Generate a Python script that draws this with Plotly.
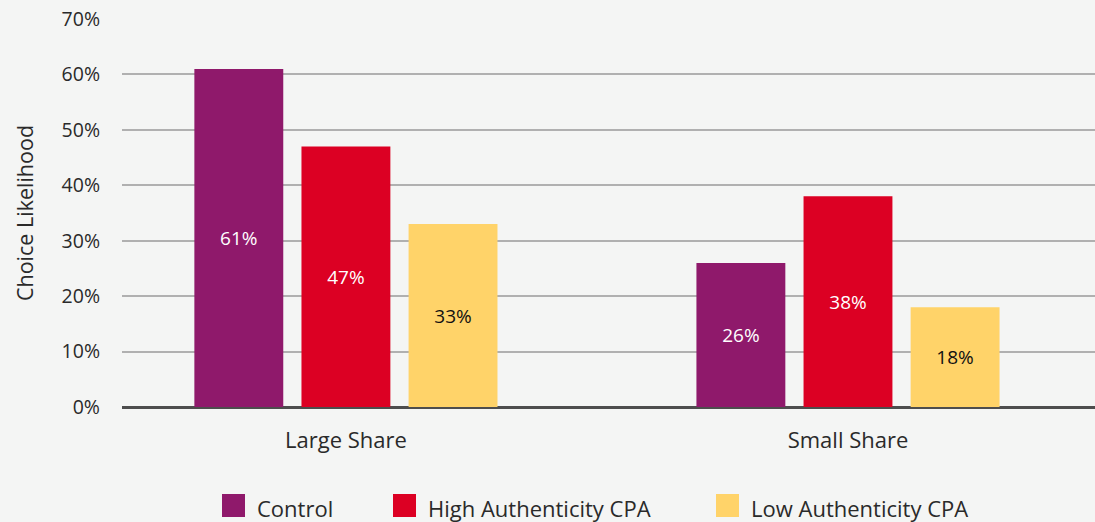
import plotly.graph_objects as go

categories = ["Large Share", "Small Share"]
series_names = ["Control", "High Authenticity CPA", "Low Authenticity CPA"]
control = [61, 26]
high_cpa = [47, 38]
low_cpa = [33, 18]
y_ticks = [0, 10, 20, 30, 40, 50, 60, 70]
y_tick_labels = [f"{v}%" for v in y_ticks]

colors = ["#8f196b", "#dc0023", "#ffd369"]
text_colors = ["white", "white", "#111111"]
FONT = "Open Sans, Noto Sans, sans-serif"
BG = "#f4f5f4"
TXT = "#2a2a2a"
WT = 400

fig = go.Figure()
for name, vals, c, tc in zip(series_names, [control, high_cpa, low_cpa], colors, text_colors):
    fig.add_trace(go.Bar(
        x=[0, 1], y=vals, name=name, marker=dict(color=c, line=dict(width=0)),
        text=[f"{v}%" for v in vals], textposition="inside", insidetextanchor="middle",
        textfont=dict(color=tc, size=19, family=FONT, weight=WT), showlegend=False,
        hoverinfo="skip",
    ))

W, H = 1095, 522
ml, mr, mt, mb = 122, 0, 19, 115
pw, ph = W - ml - mr, H - mt - mb

def px2paper_x(px):
    return (px - ml) / pw

def px2paper_y(py):
    return (H - mb - py) / ph

# Manual legend (large square swatches)
legend_x = [222, 393, 716]
sq = 23
sq_top = 494
shapes = []
annotations = []
for name, c, lx in zip(series_names, colors, legend_x):
    shapes.append(dict(type="rect", xref="paper", yref="paper",
                       x0=px2paper_x(lx), x1=px2paper_x(lx + sq),
                       y0=px2paper_y(sq_top + sq), y1=px2paper_y(sq_top),
                       fillcolor=c, line=dict(width=0)))
    annotations.append(dict(xref="paper", yref="paper", x=px2paper_x(lx + sq + 10),
                            y=px2paper_y(sq_top + sq / 2 + 2), xanchor="left", yanchor="middle",
                            text=name, showarrow=False,
                            font=dict(size=22, color=TXT, family=FONT, weight=WT)))

fig.update_layout(
    width=W, height=H,
    margin=dict(l=ml, r=mr, t=mt, b=mb),
    paper_bgcolor=BG, plot_bgcolor=BG,
    barmode="group", bargap=0.36, bargroupgap=0.17,
    font=dict(family=FONT, color=TXT, size=18, weight=WT),
    xaxis=dict(range=[-0.446, 1.492], tickmode="array", tickvals=[0, 1], ticktext=categories,
               showgrid=False, zeroline=False, showline=False, ticks="",
               tickfont=dict(size=22, color=TXT, family=FONT, weight=WT), ticklabelstandoff=18),
    yaxis=dict(range=[0, 70], tickmode="array", tickvals=y_ticks, ticktext=y_tick_labels,
               showgrid=True, gridcolor="#b0b0b0", gridwidth=1.5,
               zeroline=True, zerolinecolor="#4d4d4d", zerolinewidth=3,
               showline=False, ticks="", tickfont=dict(size=19.5, color=TXT, family=FONT, weight=WT),
               ticklabelstandoff=21,
               title=dict(text="Choice Likelihood",
                          font=dict(size=21.5, color=TXT, family=FONT, weight=WT), standoff=22)),
    shapes=shapes, annotations=annotations,
    showlegend=False,
)

fig.write_html("out.html", config={"displayModeBar": False},
               post_script="document.body.style.margin='0';document.body.style.overflow='hidden';")
